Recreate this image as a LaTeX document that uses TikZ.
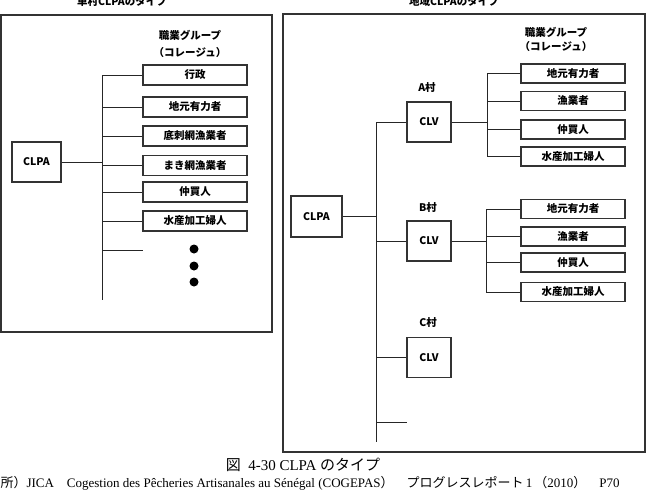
\documentclass[tikz,border=0pt]{standalone}
\usepackage{fontspec}
\setmainfont{Liberation Serif}
\newfontfamily\jp{Noto Sans CJK JP}
\usetikzlibrary{positioning}
\definecolor{framegray}{HTML}{333333}

\tikzset{
  grp/.style={draw=framegray,line width=1.2pt,minimum width=104pt,minimum height=20pt,
    inner sep=0pt,font=\jp\bfseries\fontsize{10.5}{12}\selectfont},
  clv/.style={draw=framegray,line width=1.2pt,minimum width=44pt,minimum height=40pt,
    inner sep=0pt,font=\jp\bfseries\fontsize{10.5}{12}\selectfont},
  lbl/.style={inner sep=0pt,font=\jp\bfseries\fontsize{10.5}{12}\selectfont},
  panel/.style={draw=framegray,line width=1.3pt},
  wire/.style={line width=1pt,draw=black!85}
}

\begin{document}
\begin{tikzpicture}[x=1pt,y=-1pt]
  \useasboundingbox (0,0) rectangle (649,498);
  \clip (0,0) rectangle (649,498);

  % 単村 CLPA
  \draw[panel] (1,15) rectangle (272,332);
  \node[lbl,anchor=base] (ttlL) at (122,5) {単村CLPAのタイプ};
  \node[lbl] (occL) at (190,35) {職業グループ};
  \node[lbl] (colL) at (190,53) {（コレージュ）};
  \node[clv,minimum width=49pt] (clpaL) at (36.5,162) {CLPA};
  \node[grp] (l1) at (195,75) {行政};
  \node[grp] (l2) at (195,107) {地元有力者};
  \node[grp] (l3) at (195,136) {底刺網漁業者};
  \node[grp] (l4) at (195,165.5) {まき網漁業者};
  \node[grp] (l5) at (195,192) {仲買人};
  \node[grp] (l6) at (195,221) {水産加工婦人};
  \coordinate (busLtop) at (102,75);
  \coordinate (busLbot) at (102,300);
  \coordinate (moreL) at (143,250);
  \draw[wire] (busLtop) -- (busLbot);
  \draw[wire] (clpaL.east) -- (clpaL.east -| busLtop);
  \foreach \g in {l1,l2,l3,l4,l5,l6}
    \draw[wire] (\g.west) -- (\g.west -| busLtop);
  \draw[wire] (moreL -| busLtop) -- (moreL);
  \foreach \y in {249,266,282}
    \fill (194,\y) circle (4.5pt);

  % 地域 CLPA
  \draw[panel] (283,14) rectangle (645,452);
  \node[lbl,anchor=base] (ttlR) at (454,5) {地域CLPAのタイプ};
  \node[lbl] (occR) at (556,32) {職業グループ};
  \node[lbl] (colR) at (556,47) {（コレージュ）};
  \node[clv,minimum width=51pt,minimum height=41pt] (clpaR) at (316.5,216.5) {CLPA};
  \node[clv] (clvA) at (429,122) {CLV};
  \node[clv] (clvB) at (429,241) {CLV};
  \node[clv] (clvC) at (429,357.5) {CLV};
  \node[lbl] (vilA) at (427,88) {A村};
  \node[lbl] (vilB) at (428,208) {B村};
  \node[lbl] (vilC) at (428,323) {C村};
  \coordinate (busRtop) at (376,122);
  \coordinate (busRbot) at (376,442);
  \coordinate (moreR) at (407,422);
  \draw[wire] (busRtop) -- (busRbot);
  \draw[wire] (clpaR.east) -- (clpaR.east -| busRtop);
  \foreach \v in {clvA,clvB,clvC}
    \draw[wire] (\v.west) -- (\v.west -| busRtop);
  \draw[wire] (moreR -| busRtop) -- (moreR);

  % A村の職業グループ
  \node[grp,minimum height=19pt] (a1) at (573,73.5) {地元有力者};
  \node[grp,minimum height=19pt] (a2) at (573,101) {漁業者};
  \node[grp,minimum height=19pt] (a3) at (573,129.5) {仲買人};
  \node[grp,minimum height=19pt] (a4) at (573,156.5) {水産加工婦人};
  \coordinate (busA) at (487,73.5);
  \draw[wire] (a1.west -| busA) -- (a4.west -| busA);
  \draw[wire] (clvA.east) -- (clvA.east -| busA);
  \foreach \g in {a1,a2,a3,a4}
    \draw[wire] (\g.west) -- (\g.west -| busA);

  % B村の職業グループ
  \node[grp,minimum height=19pt] (b1) at (573,209) {地元有力者};
  \node[grp,minimum height=19pt] (b2) at (573,236.5) {漁業者};
  \node[grp,minimum height=19pt] (b3) at (573,262.5) {仲買人};
  \node[grp,minimum height=19pt] (b4) at (573,292) {水産加工婦人};
  \coordinate (busB) at (486,209);
  \draw[wire] (b1.west -| busB) -- (b4.west -| busB);
  \draw[wire] (clvB.east) -- (clvB.east -| busB);
  \foreach \g in {b1,b2,b3,b4}
    \draw[wire] (\g.west) -- (\g.west -| busB);

  % 図番号と出所
  \node[font=\fontsize{15}{17}\selectfont] (cap) at (303,465)
    {{\jp 図}\ \ 4-30 CLPA {\jp のタイプ}};
  \node[font=\fontsize{13}{15}\selectfont,anchor=west] (src) at (-16,483)
    {{\jp 出所）}JICA{\jp 　}Cogestion des Pêcheries Artisanales au Sénégal (COGEPAS{\jp ）　プログレスレポート}\,1\,{\jp （}2010{\jp ）　}P70};
\end{tikzpicture}
\end{document}
